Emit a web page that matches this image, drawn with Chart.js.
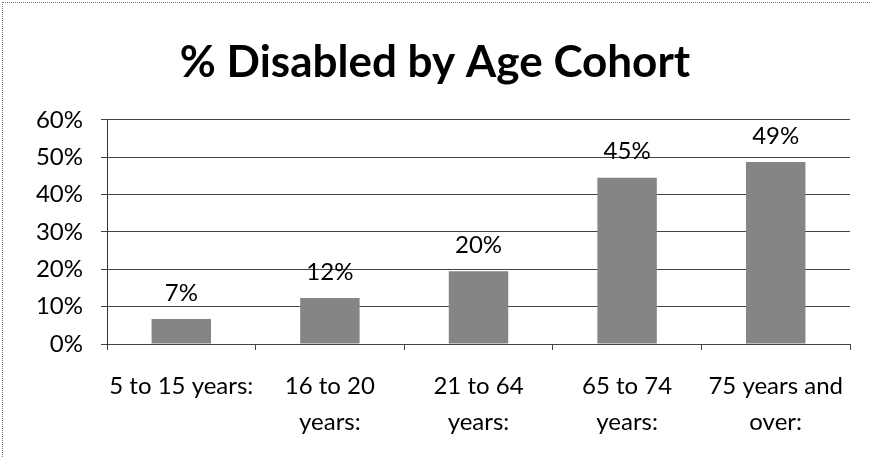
<!DOCTYPE html>
<html>
<head>
<meta charset="utf-8">
<script src="https://cdn.jsdelivr.net/npm/chart.js@4.4.1/dist/chart.umd.min.js"></script>
<style>
  html, body { margin: 0; padding: 0; background: #fff; }
  #wrap { position: relative; width: 870px; height: 457px; }
  #frame {
    position: absolute; left: 2px; top: 2px; right: 0; bottom: 0;
    border-top: 1px dotted #777; border-left: 1px dotted #777;
    pointer-events: none;
  }
</style>
</head>
<body>
<div id="wrap">
  <canvas id="chart" width="870" height="457"></canvas>
  <div id="frame"></div>
</div>
<script>
// values
const categories = [
  ['5 to 15 years:'],
  ['16 to 20', 'years:'],
  ['21 to 64', 'years:'],
  ['65 to 74', 'years:'],
  ['75 years and', 'over:']
];
const disabledPct = [6.7, 12.3, 19.5, 44.5, 48.7];
const yTicks = [0, 10, 20, 30, 40, 50, 60];

const FONT = 'Lato, "Noto Sans", sans-serif';

// draws the "7%" style labels above each bar
const barLabels = {
  id: 'barLabels',
  afterDatasetsDraw(chart) {
    const ctx = chart.ctx;
    const meta = chart.getDatasetMeta(0);
    ctx.save();
    ctx.font = '24px ' + FONT;
    ctx.fillStyle = '#000';
    ctx.textAlign = 'center';
    ctx.textBaseline = 'middle';
    meta.data.forEach((bar, i) => {
      ctx.fillText(Math.round(disabledPct[i]) + '%', bar.x, bar.y - 26);
    });
    ctx.restore();
  }
};

new Chart(document.getElementById('chart'), {
  type: 'bar',
  data: {
    labels: categories,
    datasets: [{
      data: disabledPct,
      backgroundColor: '#858585',
      borderWidth: 0,
      categoryPercentage: 1,
      barPercentage: 0.4
    }]
  },
  options: {
    responsive: false,
    animation: false,
    layout: { padding: 0 },
    plugins: {
      legend: { display: false },
      tooltip: { enabled: false },
      title: {
        display: true,
        text: '% Disabled by Age Cohort',
        color: '#000',
        font: { family: FONT, size: 44, weight: 'bold', lineHeight: 1.2 },
        padding: { top: 36, bottom: 31 }
      }
    },
    scales: {
      x: {
        afterFit(scale) { scale.height = 113; },
        grid: { offset: true, drawOnChartArea: false, tickLength: 6, color: '#444' },
        border: { color: '#444' },
        ticks: {
          color: '#000',
          padding: 18,
          maxRotation: 0,
          font: { family: FONT, size: 24, lineHeight: '36px' }
        }
      },
      y: {
        min: 0,
        max: 60,
        afterFit(scale) { scale.width = 107; },
        afterBuildTicks(scale) { scale.ticks = yTicks.map(v => ({ value: v })); },
        grid: { tickLength: 6, color: '#444' },
        border: { color: '#333' },
        ticks: {
          color: '#000',
          padding: 18,
          font: { family: FONT, size: 24 },
          callback: v => v + '%'
        }
      },
      // empty right margin so the title stays centred on the page
      spacer: {
        position: 'right',
        min: 0,
        max: 60,
        afterFit(scale) { scale.width = 20; },
        grid: { display: false },
        border: { display: false },
        ticks: { display: false }
      }
    }
  },
  plugins: [barLabels]
});
</script>
</body>
</html>
